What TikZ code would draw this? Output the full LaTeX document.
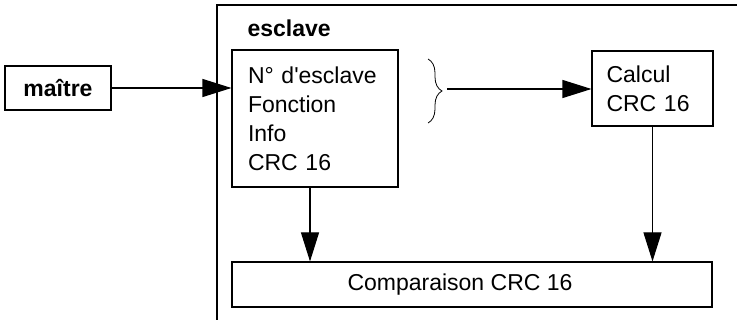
\documentclass[tikz,border=0pt]{standalone}
\usepackage{fontspec}
\setmainfont{Liberation Sans}
\usetikzlibrary{arrows.meta,decorations.pathreplacing}
\begin{document}
\begin{tikzpicture}[x=1pt,y=-1pt,
  font=\fontsize{23}{29}\selectfont,
  line width=1.1pt,
  box/.style={draw,rectangle,inner sep=0pt},
  arr/.style={-{Triangle[length=29pt,width=18pt]}},
  lbl/.style={inner sep=0pt}]
\useasboundingbox (0,0) rectangle (738,320);
% frame of the slave
\draw (217,320) -- (217,5) -- (737,5);
\node[lbl,anchor=base west,font=\fontsize{23}{29}\selectfont\bfseries] (esclave) at (247,37) {esclave};
% boxes
\node[box,minimum width=106pt,minimum height=44pt,font=\fontsize{23}{29}\selectfont\bfseries] (maitre) at (58,88) {maître};
\node[box,minimum width=166pt,minimum height=137pt,text width=134pt,inner xsep=16pt,align=left] (info) at (315,118.5)
  {N° d\textquotesingle esclave\\Fonction\\Info\\CRC 16};
\node[box,minimum width=121pt,minimum height=75pt,text width=92pt,inner xsep=14.5pt,align=left] (calc) at (652.5,88.5)
  {Calcul\\CRC 16};
\node[box,minimum width=480pt,minimum height=45pt] (comp) at (472,284.5) {\hspace*{-24pt}Comparaison CRC 16};
% brace
\draw[line width=0.8pt,decorate,decoration={brace,amplitude=14pt}] (428,59) -- (428,123);
\coordinate (bracetip) at (447,89);
\coordinate (infox) at (310,0);
% connectors
\draw[arr] (maitre.east) -- (maitre.east -| info.west);
\draw[arr] (bracetip) -- (bracetip -| calc.west);
\draw[arr] (info.south -| infox) -- (comp.north -| infox);
\draw[arr] (calc.south) -- (comp.north -| calc.south);
\end{tikzpicture}
\end{document}
